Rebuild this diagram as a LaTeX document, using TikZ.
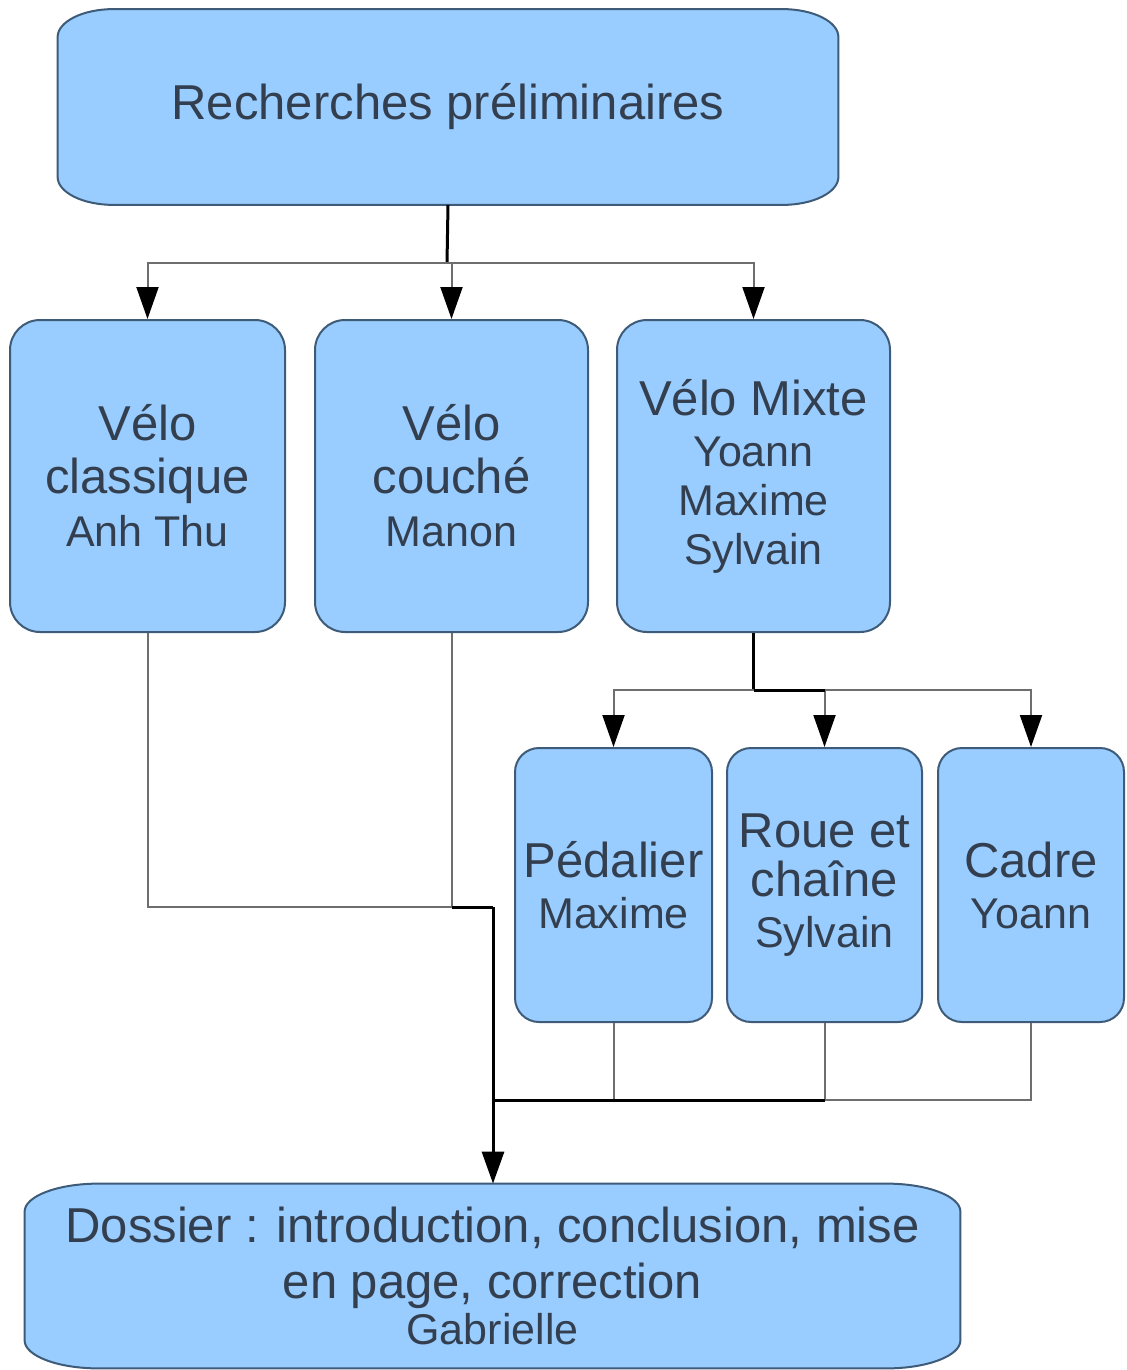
\documentclass[tikz,border=0pt]{standalone}
\usepackage{fontspec}
\setmainfont{Liberation Sans}
\usetikzlibrary{arrows.meta,backgrounds}

\definecolor{boxfill}{HTML}{99CCFF}
\definecolor{boxline}{HTML}{3E5B78}
\definecolor{txt}{HTML}{333F4F}
\definecolor{linegray}{HTML}{6E6E6E}

\newcommand{\bigtxt}{\fontsize{24.5}{26.5}\selectfont}
\newcommand{\who}{\fontsize{21.5}{24}\selectfont}
% box with elliptic corners, drawn behind node #1
\newcommand{\capsule}[3]{%
  \begin{scope}[on background layer]
    \filldraw[draw=boxline,fill=boxfill,line width=1pt]
      ([xshift=#2]#1.north west) -- ([xshift=-#2]#1.north east)
      arc[start angle=90,end angle=0,x radius=#2,y radius=#3]
      -- ([yshift=#3]#1.south east)
      arc[start angle=0,end angle=-90,x radius=#2,y radius=#3]
      -- ([xshift=#2]#1.south west)
      arc[start angle=270,end angle=180,x radius=#2,y radius=#3]
      -- ([yshift=-#3]#1.north west)
      arc[start angle=180,end angle=90,x radius=#2,y radius=#3] -- cycle;
  \end{scope}}

\begin{document}
\begin{tikzpicture}[x=0.5pt,y=-0.5pt,font=\bigtxt,
    every node/.style={text=txt,align=center},
    task/.style={draw=boxline,fill=boxfill,line width=1pt,rounded corners=15pt,
      minimum height=156pt,inner sep=0pt},
    subtask/.style={task,rounded corners=12pt,minimum height=137pt},
    stem/.style={line width=1.5pt,black},
    branch/.style={line width=1pt,linegray},
    arr/.style={-{Triangle[length=16pt,width=11pt,black]}}]
    \useasboundingbox (0,0) rectangle (1126,1370);

    \node[minimum width=390pt,minimum height=97.5pt] (rech) at (448,107) {\raisebox{-2pt}{Recherches préliminaires}};
    \capsule{rech}{28pt}{14pt}

    \node[task,minimum width=137.5pt] (classique) at (147.5,476) {Vélo\\classique\\{\who Anh Thu}};
    \node[task,minimum width=136.5pt] (couche) at (451.5,476) {Vélo\\couché\\{\who Manon}};
    \node[task,minimum width=136.5pt] (mixte) at (753.5,476) {Vélo Mixte\\[-1pt]{\who Yoann}\\[-2pt]{\who Maxime}\\[-2pt]{\who Sylvain}};

    \node[subtask,minimum width=98.5pt] (pedalier) at (613.5,885) {Pédalier\\[-1pt]{\who Maxime}};
    \node[subtask,minimum width=97.5pt] (roue) at (824.5,885) {\raisebox{-2pt}{Roue et}\\chaîne\\[-1pt]{\who Sylvain}};
    \node[subtask,minimum width=93pt] (cadre) at (1031,885) {Cadre\\[-1pt]{\who Yoann}};

    \node[minimum width=467.5pt,minimum height=92pt] (dossier) at (492.5,1276) {Dossier : introduction, conclusion, mise\\[1.5pt]en page, correction\\[-3.5pt]{\who Gabrielle}};
    \capsule{dossier}{37pt}{14pt}

    \coordinate (t) at (447,263);
    \coordinate (m) at (753.5,690);
    \coordinate (j) at (493,907);
    \coordinate (k) at (493,1100);

    % first fan
    \draw[stem] (rech.south) -- (t);
    \foreach \n in {classique,couche,mixte}
        \draw[branch,arr] (t) -| (\n.north);

    % second fan
    \draw[stem] (mixte.south) -- (m);
    \foreach \n in {pedalier,roue,cadre}
        \draw[branch,arr] (m) -| (\n.north);
    \draw[stem] (m) -- (m -| roue.north);

    % towards the report
    \draw[branch] (classique.south) |- (j);
    \draw[branch] (couche.south) |- (j);
    \draw[stem] (couche.south |- j) -- (j);
    \foreach \n in {pedalier,roue,cadre}
        \draw[branch] (\n.south) |- (k);
    \draw[stem] (k) -- (k -| roue.south);
    \draw[stem,arr] (j) -- (j |- dossier.north);
\end{tikzpicture}
\end{document}
